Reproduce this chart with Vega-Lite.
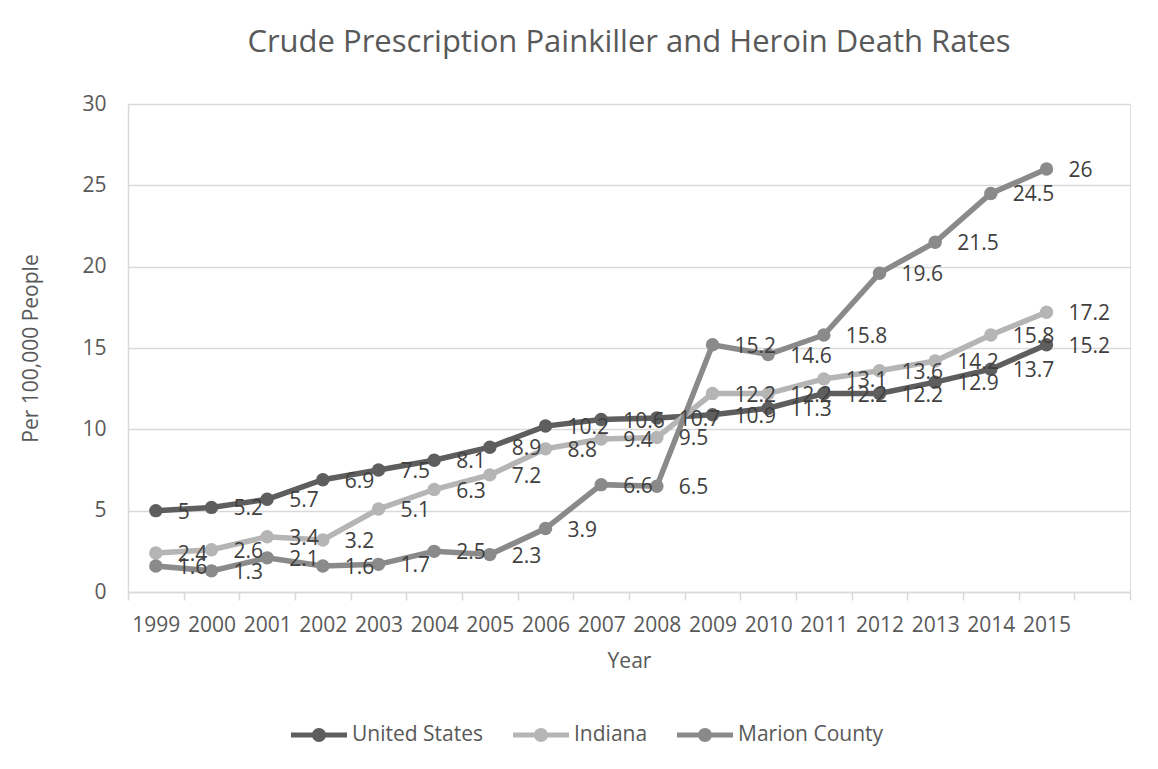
{
  "$schema": "https://vega.github.io/schema/vega-lite/v6.json",
  "width": 1002,
  "height": 488,
  "autosize": {"type": "none"},
  "padding": {"left": 128, "top": 104, "right": 28, "bottom": 177},
  "background": "white",
  "title": {
    "text": "Crude Prescription Painkiller and Heroin Death Rates",
    "font": "Open Sans",
    "fontSize": 31,
    "fontWeight": "normal",
    "color": "#595959",
    "anchor": "middle",
    "offset": 34
  },
  "data": {
    "values": [
      {"year": "1999", "area": "United States", "rate": 5},
      {"year": "2000", "area": "United States", "rate": 5.2},
      {"year": "2001", "area": "United States", "rate": 5.7},
      {"year": "2002", "area": "United States", "rate": 6.9},
      {"year": "2003", "area": "United States", "rate": 7.5},
      {"year": "2004", "area": "United States", "rate": 8.1},
      {"year": "2005", "area": "United States", "rate": 8.9},
      {"year": "2006", "area": "United States", "rate": 10.2},
      {"year": "2007", "area": "United States", "rate": 10.6},
      {"year": "2008", "area": "United States", "rate": 10.7},
      {"year": "2009", "area": "United States", "rate": 10.9},
      {"year": "2010", "area": "United States", "rate": 11.3},
      {"year": "2011", "area": "United States", "rate": 12.2},
      {"year": "2012", "area": "United States", "rate": 12.2},
      {"year": "2013", "area": "United States", "rate": 12.9},
      {"year": "2014", "area": "United States", "rate": 13.7},
      {"year": "2015", "area": "United States", "rate": 15.2},
      {"year": "1999", "area": "Indiana", "rate": 2.4},
      {"year": "2000", "area": "Indiana", "rate": 2.6},
      {"year": "2001", "area": "Indiana", "rate": 3.4},
      {"year": "2002", "area": "Indiana", "rate": 3.2},
      {"year": "2003", "area": "Indiana", "rate": 5.1},
      {"year": "2004", "area": "Indiana", "rate": 6.3},
      {"year": "2005", "area": "Indiana", "rate": 7.2},
      {"year": "2006", "area": "Indiana", "rate": 8.8},
      {"year": "2007", "area": "Indiana", "rate": 9.4},
      {"year": "2008", "area": "Indiana", "rate": 9.5},
      {"year": "2009", "area": "Indiana", "rate": 12.2},
      {"year": "2010", "area": "Indiana", "rate": 12.2},
      {"year": "2011", "area": "Indiana", "rate": 13.1},
      {"year": "2012", "area": "Indiana", "rate": 13.6},
      {"year": "2013", "area": "Indiana", "rate": 14.2},
      {"year": "2014", "area": "Indiana", "rate": 15.8},
      {"year": "2015", "area": "Indiana", "rate": 17.2},
      {"year": "1999", "area": "Marion County", "rate": 1.6},
      {"year": "2000", "area": "Marion County", "rate": 1.3},
      {"year": "2001", "area": "Marion County", "rate": 2.1},
      {"year": "2002", "area": "Marion County", "rate": 1.6},
      {"year": "2003", "area": "Marion County", "rate": 1.7},
      {"year": "2004", "area": "Marion County", "rate": 2.5},
      {"year": "2005", "area": "Marion County", "rate": 2.3},
      {"year": "2006", "area": "Marion County", "rate": 3.9},
      {"year": "2007", "area": "Marion County", "rate": 6.6},
      {"year": "2008", "area": "Marion County", "rate": 6.5},
      {"year": "2009", "area": "Marion County", "rate": 15.2},
      {"year": "2010", "area": "Marion County", "rate": 14.6},
      {"year": "2011", "area": "Marion County", "rate": 15.8},
      {"year": "2012", "area": "Marion County", "rate": 19.6},
      {"year": "2013", "area": "Marion County", "rate": 21.5},
      {"year": "2014", "area": "Marion County", "rate": 24.5},
      {"year": "2015", "area": "Marion County", "rate": 26}
    ]
  },
  "encoding": {
    "x": {
      "field": "year",
      "type": "ordinal",
      "scale": {
        "type": "band",
        "domain": ["1999","2000","2001","2002","2003","2004","2005","2006","2007","2008","2009","2010","2011","2012","2013","2014","2015","2016"],
        "paddingInner": 0,
        "paddingOuter": 0
      },
      "axis": {
        "title": "Year",
        "tickBand": "extent",
        "labelAngle": 0,
        "grid": false,
        "domainColor": "#d9d9d9",
        "domainWidth": 1.5,
        "tickColor": "#d9d9d9",
        "tickWidth": 1.5,
        "tickSize": 8,
        "labelPadding": 14,
        "labelFont": "Open Sans",
        "labelFontSize": 21,
        "labelColor": "#595959",
        "labelOverlap": false,
        "labelExpr": "datum.value == '2016' ? '' : datum.value",
        "titleFont": "Open Sans",
        "titleFontSize": 21,
        "titleFontWeight": "normal",
        "titleColor": "#595959",
        "titlePadding": 15
      }
    },
    "y": {
      "field": "rate",
      "type": "quantitative",
      "scale": {"domain": [0, 30]},
      "axis": {
        "title": "Per 100,000 People",
        "values": [0, 5, 10, 15, 20, 25, 30],
        "grid": true,
        "gridColor": "#d9d9d9",
        "gridWidth": 1.5,
        "domain": true,
        "domainColor": "#d9d9d9",
        "domainWidth": 1.5,
        "ticks": false,
        "tickSize": 0,
        "labelPadding": 22,
        "labelFont": "Open Sans",
        "labelFontSize": 21,
        "labelColor": "#595959",
        "titleFont": "Open Sans",
        "titleFontSize": 21,
        "titleFontWeight": "normal",
        "titleColor": "#595959",
        "titlePadding": 40
      }
    },
    "color": {
      "field": "area",
      "type": "nominal",
      "sort": ["United States", "Indiana", "Marion County"],
      "scale": {
        "domain": ["United States", "Indiana", "Marion County"],
        "range": ["#5e5e5e", "#b5b5b5", "#8a8a8a"]
      },
      "legend": {
        "title": null,
        "orient": "none",
        "direction": "horizontal",
        "legendX": 163,
        "legendY": 603,
        "symbolType": "M-1,-0.09H1V0.09H-1Z M0.25,0A0.25,0.25 0 1,1 -0.25,0A0.25,0.25 0 1,1 0.25,0Z",
        "symbolSize": 3136,
        "symbolStrokeWidth": 0,
        "labelFont": "Open Sans",
        "labelFontSize": 21,
        "labelColor": "#595959",
        "labelOffset": 5,
        "columnPadding": 29
      }
    }
  },
  "layer": [
    {"mark": {"type": "line", "strokeWidth": 5.5}},
    {"mark": {"type": "point", "filled": true, "size": 180, "opacity": 1}},
    {
      "mark": {
        "type": "text",
        "align": "left",
        "baseline": "middle",
        "dx": 22,
        "dy": 2,
        "font": "Open Sans",
        "fontSize": 21,
        "color": "#404040"
      },
      "encoding": {
        "text": {"field": "rate", "type": "quantitative"},
        "color": {"value": "#404040"}
      }
    }
  ]
}
